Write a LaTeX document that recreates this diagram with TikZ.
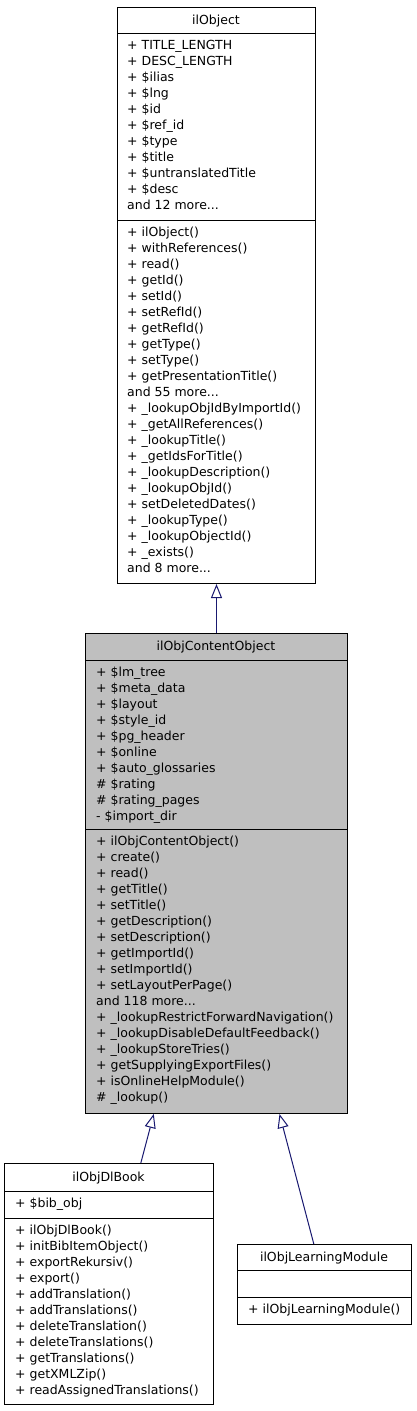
\documentclass[tikz,border=0pt]{standalone}
\usepackage{fontspec}
\setmainfont{DejaVu Sans}
\usepackage{xcolor}
\usepackage{tikz}
\usetikzlibrary{arrows.meta}

\definecolor{midnight}{RGB}{25,25,112}
\definecolor{gray75}{RGB}{191,191,191}

\tikzset{
  classbox/.style={draw=black, line width=1pt, fill=white, anchor=north west, inner sep=0pt},
  graybox/.style={classbox, fill=gray75},
  classname/.style={anchor=base, inner sep=0pt, font=\fontsize{12.5}{16}\selectfont},
  member/.style={anchor=north west, inner sep=0pt, align=left, font=\fontsize{12.5}{16}\selectfont},
  inherit/.style={draw=midnight, line width=1pt, -{Triangle[open, length=14pt, width=11pt, fill=white]}}
}

\begin{document}
\begin{tikzpicture}[x=1pt,y=-1pt]
\useasboundingbox (0,0) rectangle (416,1411);

% ilObject
\node[classbox, minimum width=198pt, minimum height=576pt] (obj) at (117,7) {};
\draw[line width=1pt] (117,33) -- (315,33);
\draw[line width=1pt] (117,220) -- (315,220);
\node[classname] (obj-name) at (216,24.5) {ilObject};
\node[member] (obj-attr) at (127,37.8) {\strut+ TITLE\_LENGTH\\+ DESC\_LENGTH\\+ \$ilias\\+ \$lng\\+ \$id\\+ \$ref\_id\\+ \$type\\+ \$title\\+ \$untranslatedTitle\\+ \$desc\\and 12 more...};
\node[member] (obj-meth) at (127,224.8) {\strut+ ilObject()\\+ withReferences()\\+ read()\\+ getId()\\+ setId()\\+ setRefId()\\+ getRefId()\\+ getType()\\+ setType()\\+ getPresentationTitle()\\and 55 more...\\+ \_lookupObjIdByImportId()\\+ \_getAllReferences()\\+ \_lookupTitle()\\+ \_getIdsForTitle()\\+ \_lookupDescription()\\+ \_lookupObjId()\\+ setDeletedDates()\\+ \_lookupType()\\+ \_lookupObjectId()\\+ \_exists()\\and 8 more...};

% ilObjContentObject
\node[graybox, minimum width=262pt, minimum height=480pt] (cobj) at (85,633) {};
\draw[line width=1pt] (85,660) -- (347,660);
\draw[line width=1pt] (85,829) -- (347,829);
\node[classname] (cobj-name) at (216,650.5) {ilObjContentObject};
\node[member] (cobj-attr) at (96,664.8) {\strut+ \$lm\_tree\\+ \$meta\_data\\+ \$layout\\+ \$style\_id\\+ \$pg\_header\\+ \$online\\+ \$auto\_glossaries\\\# \$rating\\\# \$rating\_pages\\- \$import\_dir};
\node[member] (cobj-meth) at (96,833.8) {\strut+ ilObjContentObject()\\+ create()\\+ read()\\+ getTitle()\\+ setTitle()\\+ getDescription()\\+ setDescription()\\+ getImportId()\\+ setImportId()\\+ setLayoutPerPage()\\and 118 more...\\+ \_lookupRestrictForwardNavigation()\\+ \_lookupDisableDefaultFeedback()\\+ \_lookupStoreTries()\\+ getSupplyingExportFiles()\\+ isOnlineHelpModule()\\\# \_lookup()};

% ilObjDlBook
\node[classbox, minimum width=209pt, minimum height=241pt] (dlbook) at (4,1163) {};
\draw[line width=1pt] (4,1191) -- (213,1191);
\draw[line width=1pt] (4,1218) -- (213,1218);
\node[classname] (dlbook-name) at (108.5,1181.5) {ilObjDlBook};
\node[member] (dlbook-attr) at (15,1195.8) {\strut+ \$bib\_obj};
\node[member] (dlbook-meth) at (15,1222.8) {\strut+ ilObjDlBook()\\+ initBibItemObject()\\+ exportRekursiv()\\+ export()\\+ addTranslation()\\+ addTranslations()\\+ deleteTranslation()\\+ deleteTranslations()\\+ getTranslations()\\+ getXMLZip()\\+ readAssignedTranslations()};

% ilObjLearningModule
\node[classbox, minimum width=174pt, minimum height=80pt] (lmod) at (237,1244) {};
\draw[line width=1pt] (237,1270) -- (411,1270);
\draw[line width=1pt] (237,1297) -- (411,1297);
\node[classname] (lmod-name) at (324,1261.5) {ilObjLearningModule};
\node[member] (lmod-meth) at (248,1301.8) {\strut+ ilObjLearningModule()};

\path[inherit]
    (cobj)   edge (obj)
    (dlbook) edge (cobj)
    (lmod)   edge (cobj);
\end{tikzpicture}
\end{document}
